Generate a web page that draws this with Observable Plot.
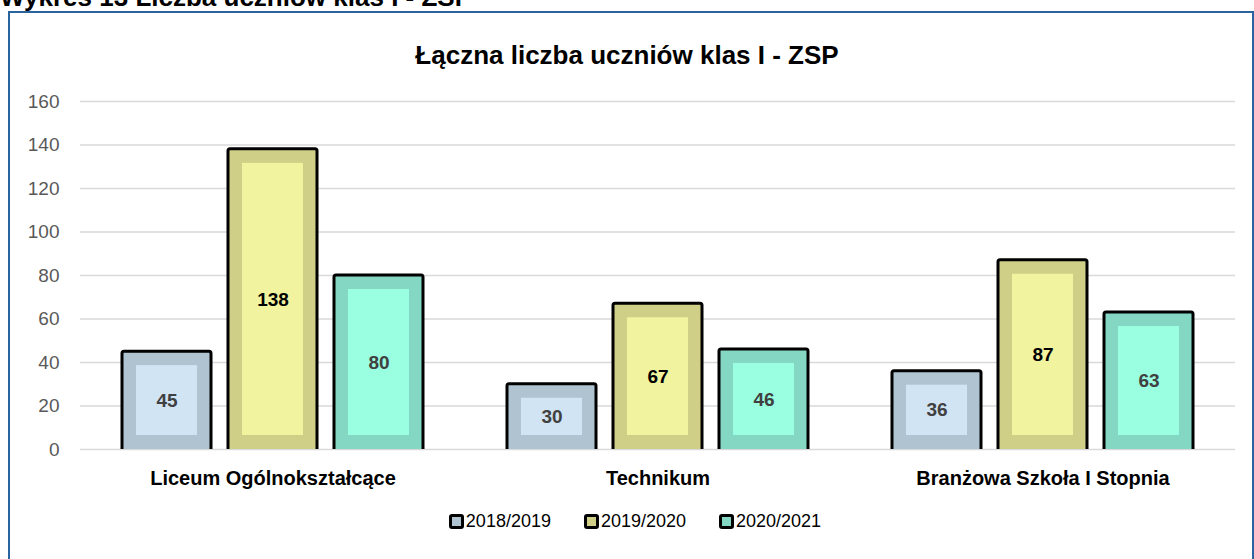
<!DOCTYPE html>
<html><head><meta charset="utf-8">
<script src="https://cdn.jsdelivr.net/npm/d3@7"></script>
<script src="https://cdn.jsdelivr.net/npm/@observablehq/plot@0.6"></script>
<style>
html,body{margin:0;padding:0;width:1254px;height:559px;overflow:hidden;background:#fff;font-family:"Liberation Sans",Arial,sans-serif;}
#hdr{position:absolute;left:0;top:-16px;font-weight:bold;font-size:26px;line-height:1;white-space:nowrap;color:#000;}
#box{position:absolute;left:8px;top:11px;width:1246px;height:600px;box-sizing:border-box;border:2px solid #2a64a0;}
#title{position:absolute;left:0;top:42px;width:1254px;text-align:center;font-weight:bold;font-size:26px;line-height:1;color:#000;}
#chart{position:absolute;left:0;top:80px;}
#legend{position:absolute;left:0;top:512px;width:1254px;box-sizing:border-box;padding-left:16px;display:flex;justify-content:center;gap:33px;font-size:18px;color:#000;}
.item{display:flex;align-items:center;gap:2px;line-height:1}
.sw{width:9px;height:9px;border:3px solid #000;border-radius:3px;display:inline-block}
</style></head>
<body>
<div id="hdr">Wykres 13 Liczba uczniów klas I - ZSP</div>
<div id="box"></div>
<div id="title">Łączna liczba uczniów klas I - ZSP</div>
<div id="chart"></div>
<div id="legend"></div>
<script>
const schools = ["Liceum Ogólnokształcące", "Technikum", "Branżowa Szkoła I Stopnia"];
const years = ["2018/2019", "2019/2020", "2020/2021"];
const v2018 = [45, 30, 36];
const v2019 = [138, 67, 87];
const v2020 = [80, 46, 63];
const yTicks = [0, 20, 40, 60, 80, 100, 120, 140, 160];
const outerColors = ["#afc3d0", "#cfcf88", "#84d7c3"];
const innerColors = ["#d0e4f4", "#f1f39e", "#99ffe0"];
const labelColors = ["#404040", "#000000", "#404040"];

const series = [v2018, v2019, v2020];
const data = [];
schools.forEach((s, i) => years.forEach((y, j) => data.push({school: s, year: y, value: series[j][i], j})));

const chart = Plot.plot({
  width: 1254,
  height: 409,
  marginLeft: 79,
  marginRight: 18,
  marginTop: 21,
  marginBottom: 40,
  style: {fontFamily: "'Liberation Sans', Arial, sans-serif", background: "transparent"},
  fx: {domain: schools, padding: 0, label: null, axis: "bottom", tickSize: 0, tickPadding: 21},
  x: {domain: years, paddingInner: 0.164, paddingOuter: 0.392, axis: null},
  y: {domain: [0, 160], ticks: yTicks, label: null, tickSize: 0, tickPadding: 21},
  marks: [
    Plot.ruleY(yTicks, {stroke: "#d9d9d9", strokeWidth: 1.5}),
    Plot.barY(data, {fx: "school", x: "year", y: "value", fill: d => outerColors[d.j], stroke: "#000", strokeWidth: 3, rx: 2, insetBottom: -4, clip: true}),
    Plot.barY(data, {fx: "school", x: "year", y: "value", fill: d => innerColors[d.j], insetLeft: 14, insetRight: 14, insetTop: 14, insetBottom: 14}),
    Plot.text(data, {fx: "school", x: "year", y: d => d.value / 2, text: d => String(d.value), fill: d => labelColors[d.j], fontWeight: "bold", fontSize: 19})
  ]
});
chart.querySelectorAll("[aria-label='y-axis tick label']").forEach(g => {g.setAttribute("font-size", "19"); g.setAttribute("fill", "#595959");});
chart.querySelectorAll("[aria-label='fx-axis tick label']").forEach(g => {g.setAttribute("font-size", "20"); g.setAttribute("font-weight", "bold"); g.setAttribute("fill", "#000");});
document.getElementById("chart").appendChild(chart);

const lg = document.getElementById("legend");
years.forEach((y, j) => {
  const it = document.createElement("div");
  it.className = "item";
  it.innerHTML = `<span class="sw" style="background:${outerColors[j]}"></span><span>${y}</span>`;
  lg.appendChild(it);
});
</script>
</body></html>
